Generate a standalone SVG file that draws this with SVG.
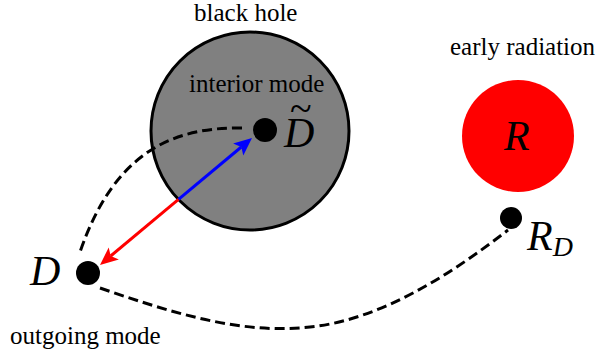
<svg xmlns="http://www.w3.org/2000/svg" width="598" height="354" viewBox="0 0 598 354">
<style>
.lbl{font-size:25px;fill:#000}
.math{font-size:42px;font-style:italic;fill:#000}
.dash{fill:none;stroke:#000;stroke-width:3;stroke-dasharray:10 5}
.dot{fill:#000}
</style>
<g id="blackhole">
<circle cx="250" cy="131" r="99" fill="#808080" stroke="#000" stroke-width="3"/>
<text class="lbl" x="194" y="21" font-family="Liberation Serif, serif">black hole</text>
<text class="lbl" x="189" y="92" font-family="Liberation Serif, serif">interior mode</text>
</g>
<g id="radiation">
<circle cx="518" cy="136" r="56" fill="#ff0000"/>
<text class="lbl" x="450" y="55" font-family="Liberation Serif, serif">early radiation</text>
<text class="math" x="504" y="150" font-family="Liberation Serif, serif">R</text>
</g>
<g id="connectors">
<path class="dash" d="M242,128 C175,127 115,150 80,252"/>
<path class="dash" d="M100,288 C170,312 240,335 310,327 C380,320 450,275 508,230"/>
<line x1="178.5" y1="199.4" x2="241.3" y2="147" stroke="#0000ff" stroke-width="3"/>
<polygon points="252,138 243.3,155.6 241.3,147 233.1,143.4" fill="#0000ff"/>
<line x1="178.5" y1="199.4" x2="110.7" y2="256" stroke="#ff0000" stroke-width="3"/>
<polygon points="100,265 108.7,247.4 110.7,256 118.9,259.6" fill="#ff0000"/>
</g>
<g id="node-Dtilde">
<circle class="dot" cx="265" cy="130" r="12"/>
<text class="math" x="284" y="147" font-family="Liberation Serif, serif">D</text>
<text x="290" y="122" font-size="40" font-family="Liberation Serif, serif" fill="#000">~</text>
</g>
<g id="node-D">
<circle class="dot" cx="88" cy="273" r="12"/>
<text class="math" x="30" y="285" font-family="Liberation Serif, serif">D</text>
<text class="lbl" x="10" y="344" font-family="Liberation Serif, serif">outgoing mode</text>
</g>
<g id="node-RD">
<circle class="dot" cx="511" cy="218" r="11"/>
<text class="math" x="527" y="250" font-family="Liberation Serif, serif">R<tspan font-size="28" dy="6">D</tspan></text>
</g>
</svg>
